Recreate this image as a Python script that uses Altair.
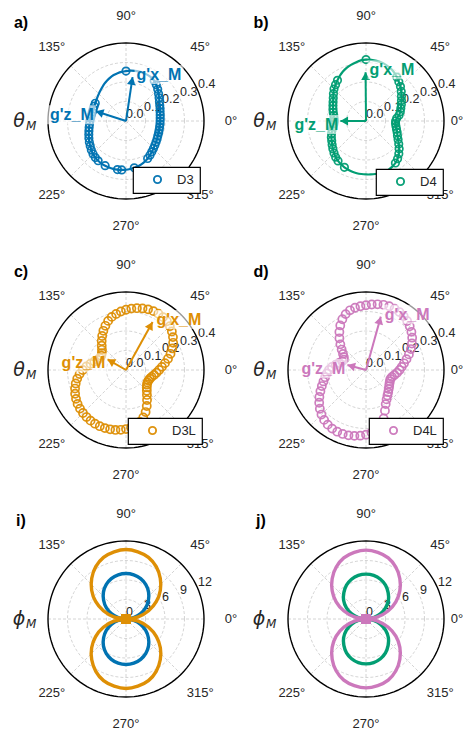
import math
import altair as alt
import pandas as pd

# ---------------- data ----------------
ANG = list(range(0, 360, 5))  # theta_M in degrees

R_D3 = [0.175, 0.176, 0.178, 0.181, 0.186, 0.191, 0.198, 0.207, 0.218, 0.230, 0.242, 0.252,
        0.258, 0.261, 0.262, 0.262, 0.261, 0.259, 0.256, 0.253, 0.249, 0.244, 0.237, 0.229,
        0.221, 0.212, 0.204, 0.197, 0.191, 0.186, 0.182, 0.180, 0.179, 0.179, 0.180, 0.182,
        0.185, 0.188, 0.192, 0.197, 0.203, 0.210, 0.217, 0.224, 0.232, 0.239, 0.245, 0.249,
        0.252, 0.253, 0.254, 0.254, 0.253, 0.252, 0.250, 0.247, 0.244, 0.240, 0.235, 0.229,
        0.222, 0.214, 0.206, 0.199, 0.193, 0.188, 0.184, 0.180, 0.178, 0.176, 0.175, 0.175]

R_D4 = [0.152, 0.158, 0.172, 0.182, 0.190, 0.200, 0.210, 0.222, 0.236, 0.250, 0.262, 0.275,
        0.288, 0.298, 0.305, 0.310, 0.313, 0.315, 0.315, 0.312, 0.305, 0.298, 0.290, 0.280,
        0.268, 0.255, 0.243, 0.232, 0.218, 0.205, 0.195, 0.187, 0.180, 0.174, 0.168, 0.164,
        0.162, 0.165, 0.172, 0.180, 0.188, 0.196, 0.203, 0.212, 0.222, 0.232, 0.242, 0.250,
        0.256, 0.262, 0.266, 0.270, 0.272, 0.273, 0.274, 0.275, 0.276, 0.277, 0.277, 0.275,
        0.270, 0.263, 0.252, 0.238, 0.222, 0.205, 0.190, 0.178, 0.170, 0.162, 0.156, 0.152]

R_D3L = [0.170, 0.185, 0.203, 0.223, 0.243, 0.262, 0.279, 0.294, 0.307, 0.318, 0.326, 0.331,
         0.333, 0.333, 0.331, 0.327, 0.322, 0.316, 0.309, 0.301, 0.292, 0.282, 0.268, 0.250,
         0.232, 0.213, 0.194, 0.176, 0.161, 0.151, 0.146, 0.147, 0.155, 0.168, 0.185, 0.204,
         0.222, 0.239, 0.254, 0.267, 0.278, 0.288, 0.296, 0.303, 0.308, 0.312, 0.315, 0.317,
         0.318, 0.318, 0.317, 0.315, 0.312, 0.308, 0.303, 0.296, 0.287, 0.275, 0.259, 0.238,
         0.213, 0.188, 0.167, 0.151, 0.139, 0.131, 0.127, 0.127, 0.130, 0.136, 0.146, 0.157]

R_D4L = [0.172, 0.184, 0.198, 0.215, 0.234, 0.254, 0.272, 0.289, 0.304, 0.317, 0.328, 0.337,
         0.343, 0.347, 0.348, 0.346, 0.342, 0.337, 0.332, 0.328, 0.324, 0.317, 0.305, 0.287,
         0.264, 0.238, 0.212, 0.186, 0.163, 0.144, 0.131, 0.126, 0.130, 0.142, 0.158, 0.175,
         0.190, 0.202, 0.213, 0.226, 0.241, 0.258, 0.276, 0.293, 0.309, 0.323, 0.334, 0.342,
         0.347, 0.349, 0.349, 0.347, 0.343, 0.338, 0.332, 0.322, 0.307, 0.289, 0.264, 0.230,
         0.202, 0.184, 0.171, 0.161, 0.152, 0.145, 0.139, 0.135, 0.133, 0.138, 0.148, 0.160]

# angles at which measured markers are visible in panels a) and b)
MARK_D3 = [0, 5, 10, 15, 20, 25, 30, 35, 40, 45, 50, 55, 90,
           150, 155, 160, 165, 170, 175, 180, 185, 190, 195, 200, 205, 210, 215, 220, 225, 230, 235,
           245, 260, 265, 280, 300, 305, 310, 315, 320, 325, 330, 335, 340, 345, 350, 355]
MARK_D4 = [0, 5, 10, 15, 20, 25, 30, 35, 40, 45, 50, 55, 90,
           125, 130, 135, 140, 145, 150, 155, 160, 165, 170, 175, 180, 185, 190, 195, 200, 205,
           210, 215, 220, 225, 230, 235, 245, 305, 310, 315, 320, 325, 330, 335, 340, 345, 350, 355]

PHI = list(range(0, 361, 10))  # phi_M in degrees
PHI_D3 = [0, 1.2, 2.4, 3.5, 4.5, 5.4, 6.1, 6.6, 6.9, 7.0, 6.9, 6.6, 6.1, 5.4, 4.5, 3.5, 2.4, 1.2, 0,
          1.2, 2.4, 3.5, 4.5, 5.4, 6.1, 6.6, 6.9, 7.0, 6.9, 6.6, 6.1, 5.4, 4.5, 3.5, 2.4, 1.2, 0]
PHI_D3L = [0, 1.9, 3.7, 5.4, 6.9, 8.2, 9.3, 10.1, 10.5, 10.7, 10.5, 10.1, 9.3, 8.2, 6.9, 5.4, 3.7, 1.9, 0,
           1.9, 3.7, 5.4, 6.9, 8.2, 9.3, 10.1, 10.5, 10.7, 10.5, 10.1, 9.3, 8.2, 6.9, 5.4, 3.7, 1.9, 0]
PHI_D4 = [0, 1.2, 2.4, 3.5, 4.5, 5.3, 6.0, 6.5, 6.8, 6.9, 6.8, 6.5, 6.0, 5.3, 4.5, 3.5, 2.4, 1.2, 0,
          1.2, 2.4, 3.5, 4.5, 5.3, 6.0, 6.5, 6.8, 6.9, 6.8, 6.5, 6.0, 5.3, 4.5, 3.5, 2.4, 1.2, 0]
PHI_D4L = [0, 1.8, 3.6, 5.3, 6.8, 8.1, 9.2, 10.0, 10.4, 10.6, 10.4, 10.0, 9.2, 8.1, 6.8, 5.3, 3.6, 1.8, 0,
           1.8, 3.6, 5.3, 6.8, 8.1, 9.2, 10.0, 10.4, 10.6, 10.4, 10.0, 9.2, 8.1, 6.8, 5.3, 3.6, 1.8, 0]

# principal-axis arrows: (angle deg, length)
ARROW_X = {"a": (81.5, 0.228), "b": (90.5, 0.250), "c": (61.0, 0.281), "d": (74.5, 0.284)}
ARROW_Z = {"a": (162.0, 0.163), "b": (180.0, 0.132), "c": (150.0, 0.110), "d": (165.0, 0.099)}

THETA_LABELS = [0, 45, 90, 135, 225, 270, 315]
SPOKES = [0, 45, 90, 135, 180, 225, 270, 315]
CIRCLE_STEPS = list(range(0, 361, 3))
RT_THETA = [0.0, 0.1, 0.2, 0.3, 0.4]
RL_THETA = ["0.0", "0.1", "0.2", "0.3", "0.4"]
RT_PHI = [0, 3, 6, 9, 12]
RL_PHI = ["0", "3", "6", "9", "12"]

BLUE, ORANGE, GREEN, PINK = "#0173B2", "#DE8F05", "#029E73", "#CC78BC"

# ---------------- layout / style ----------------
FONT = "Liberation Sans"
PX = 78.0                    # pixels per unit radius (outer circle)
LEFT, RIGHT, TOP, BOTTOM = 118, 99, 113, 112
W, H = LEFT + RIGHT, TOP + BOTTOM
XS = alt.Scale(domain=[-LEFT / PX, RIGHT / PX], nice=False, zero=False)
YS = alt.Scale(domain=[-BOTTOM / PX, TOP / PX], nice=False, zero=False)
GRID = "#c9c9c9"
INK = "#262626"
LAB_R = 1.345
BOX_X = "M2,-12 L51,-12 L51,7 L2,7 Z"     # translucent label boxes (pixel path, size=4)
BOX_Z = "M-49,-6 L0,-6 L0,13 L-49,13 Z"


def X(f):
    return alt.X(f"{f}:Q", scale=XS, axis=None)


def Y(f):
    return alt.Y(f"{f}:Q", scale=YS, axis=None)


def polar_calc(chart, rmax, shift=0.0):
    return chart.transform_calculate(
        u=f"datum.r / {rmax} - {shift}",
    ).transform_calculate(
        x="datum.u * cos(datum.a * PI / 180)",
        y="datum.u * sin(datum.a * PI / 180)",
    )


def const_text(label, px_x, px_y, **kw):
    return alt.Chart(pd.DataFrame({"lab": [label]})).transform_calculate(
        x=f"{px_x / PX}", y=f"{-px_y / PX}"
    ).mark_text(**kw).encode(x=X("x"), y=Y("y"), text="lab:N")


def ring_layer(rvals, rmax, **kw):
    df = pd.DataFrame([(t, a) for t in rvals for a in CIRCLE_STEPS], columns=["r", "a"])
    return polar_calc(alt.Chart(df), rmax).mark_line(**kw).encode(
        x=X("x"), y=Y("y"), detail="r:N", order="a:Q")


def panel(letter, sym, rmax, rticks, rlabels, lines, points=None, arrow_key=None,
          color=None, legend_pos=None, right_col=False, center_sq=None, msize=56):
    layers = []
    zero_r = 91 / PX if right_col else LAB_R   # keep the 0° label inside the page
    rings = ring_layer(rticks[1:-1], rmax, stroke=GRID, strokeWidth=0.8, strokeDash=[3, 2])
    spokes = alt.Chart(pd.DataFrame({"a": SPOKES})).transform_calculate(
        o="0", x1="cos(datum.a * PI / 180)", y1="sin(datum.a * PI / 180)"
    ).mark_rule(stroke=GRID, strokeWidth=0.8, strokeDash=[3, 2]).encode(
        x=X("o"), y=Y("o"), x2="x1:Q", y2="y1:Q")
    outer = ring_layer([rticks[-1]], rmax, stroke="black", strokeWidth=1.4)
    alab = alt.Chart(pd.DataFrame({"a": THETA_LABELS})).transform_calculate(
        lr=f"datum.a == 0 ? {zero_r} : {LAB_R}"
    ).transform_calculate(
        x="datum.lr * cos(datum.a * PI / 180)", y="datum.lr * sin(datum.a * PI / 180)",
        lab="datum.a + '°'"
    ).mark_text(font=FONT, fontSize=13, color=INK).encode(x=X("x"), y=Y("y"), text="lab:N")
    rlab = alt.Chart(pd.DataFrame({"t": rticks, "lab": rlabels})).transform_calculate(
        x=f"datum.t / {rmax} * cos(22.5 * PI / 180)", y=f"datum.t / {rmax} * sin(22.5 * PI / 180)"
    ).mark_text(font=FONT, fontSize=12.5, color=INK, align="left", baseline="bottom").encode(
        x=X("x"), y=Y("y"), text="lab:N")
    layers += [rings, spokes, outer, alab, rlab]

    for ang, rs, col, width in lines:
        df = pd.DataFrame({"a": ang, "r": rs})
        df["i"] = range(len(df))
        if ang[-1] - ang[0] < 360:
            df = pd.concat([df, pd.DataFrame({"a": [ang[0] + 360], "r": [rs[0]], "i": [len(df)]})])
        ln = polar_calc(alt.Chart(df), rmax).mark_line(
            color=col, strokeWidth=width, interpolate="catmull-rom").encode(
            x=X("x"), y=Y("y"), order="i:Q")
        layers.append(ln)

    if points is not None:
        ang, rs, show, name = points
        df = pd.DataFrame({"a": ang, "r": rs, "name": name})
        df = df[df["a"].isin(show)]
        lx, ly = legend_pos
        pts = polar_calc(alt.Chart(df), rmax).mark_point(
            shape="circle", filled=False, size=msize, strokeWidth=1.7, opacity=0.95).encode(
            x=X("x"), y=Y("y"),
            color=alt.Color("name:N", scale=alt.Scale(domain=[name], range=[color]),
                            legend=alt.Legend(title=None, orient="none", legendX=lx, legendY=ly,
                                              strokeColor="black", fillColor="white", padding=6,
                                              cornerRadius=0, symbolType="circle", symbolSize=52,
                                              symbolStrokeWidth=1.9, symbolOffset=12, labelOffset=13,
                                              labelFont=FONT, labelFontSize=13, labelColor=INK)))
        layers.append(pts)

    if arrow_key is not None:
        ax_ang, ax_len = ARROW_X[arrow_key]
        az_ang, az_len = ARROW_Z[arrow_key]
        adf = pd.DataFrame({"a": [ax_ang, az_ang], "r": [ax_len, az_len]})
        shaft = polar_calc(alt.Chart(adf), rmax).transform_calculate(o="0").mark_rule(
            color=color, strokeWidth=2).encode(x=X("o"), y=Y("o"), x2="x:Q", y2="y:Q")
        head = polar_calc(alt.Chart(adf), rmax, shift=0.05).transform_calculate(
            rot="(450 - datum.a) % 360").mark_point(
            shape="triangle-up", filled=True, size=80, color=color, opacity=1).encode(
            x=X("x"), y=Y("y"), angle=alt.Angle("rot:Q", scale=None))
        lx_df = pd.DataFrame({"a": [ax_ang], "r": [ax_len], "lab": ["g'x_M"]})
        lz_df = pd.DataFrame({"a": [az_ang], "r": [az_len], "lab": ["g'z_M"]})
        bx = polar_calc(alt.Chart(lx_df), rmax).mark_point(
            shape=BOX_X, size=4, filled=True, color="white", opacity=0.6, strokeWidth=0).encode(
            x=X("x"), y=Y("y"))
        bz = polar_calc(alt.Chart(lz_df), rmax).mark_point(
            shape=BOX_Z, size=4, filled=True, color="white", opacity=0.6, strokeWidth=0).encode(
            x=X("x"), y=Y("y"))
        tx = polar_calc(alt.Chart(lx_df), rmax).mark_text(
            font=FONT, fontSize=16, fontWeight="bold", color=color, align="left",
            baseline="middle", dx=4, dy=-2).encode(x=X("x"), y=Y("y"), text="lab:N")
        tz = polar_calc(alt.Chart(lz_df), rmax).mark_text(
            font=FONT, fontSize=16, fontWeight="bold", color=color, align="right",
            baseline="middle", dx=-2, dy=4).encode(x=X("x"), y=Y("y"), text="lab:N")
        layers += [shaft, head, bx, bz, tx, tz]

    if center_sq is not None:
        sq = alt.Chart(pd.DataFrame({"a": [0], "r": [0]})).transform_calculate(o="0").mark_square(
            size=100, color=center_sq, opacity=1).encode(x=X("o"), y=Y("o"))
        layers.append(sq)

    layers.append(const_text(letter, -105, -98, font=FONT, fontSize=16, fontWeight="bold",
                             color="black", align="center", baseline="middle"))
    layers.append(const_text(sym, -107, 0, font="DejaVu Sans", fontSize=19, fontStyle="italic",
                             color=INK, align="center", baseline="middle"))
    layers.append(const_text("M", -100, 5, font="DejaVu Sans", fontSize=12, fontStyle="italic",
                             color=INK, align="left", baseline="middle"))
    return alt.layer(*layers).properties(width=W, height=H)


pa = panel("a)", "θ", 0.4, RT_THETA, RL_THETA, [(ANG, R_D3, BLUE, 2.2)],
           points=(ANG, R_D3, MARK_D3, "D3"), arrow_key="a", color=BLUE,
           legend_pos=(LEFT + 7, TOP + 46))
pb = panel("b)", "θ", 0.4, RT_THETA, RL_THETA, [(ANG, R_D4, GREEN, 2.2)],
           points=(ANG, R_D4, MARK_D4, "D4"), arrow_key="b", color=GREEN,
           legend_pos=(LEFT + 10, TOP + 48), right_col=True)
pc = panel("c)", "θ", 0.4, RT_THETA, RL_THETA, [],
           points=(ANG, R_D3L, ANG, "D3L"), arrow_key="c", color=ORANGE,
           legend_pos=(LEFT + 2, TOP + 48), msize=66)
pd_ = panel("d)", "θ", 0.4, RT_THETA, RL_THETA, [],
            points=(ANG, R_D4L, ANG, "D4L"), arrow_key="d", color=PINK,
            legend_pos=(LEFT + 3, TOP + 48), right_col=True, msize=66)
pi = panel("i)", "ϕ", 12, RT_PHI, RL_PHI,
           [(PHI, PHI_D3, BLUE, 3.4), (PHI, PHI_D3L, ORANGE, 3.4)], center_sq=ORANGE)
pj = panel("j)", "ϕ", 12, RT_PHI, RL_PHI,
           [(PHI, PHI_D4, GREEN, 3.4), (PHI, PHI_D4L, PINK, 3.4)], center_sq=PINK, right_col=True)

chart = alt.concat(pa, pb, pc, pd_, pi, pj, columns=2,
                   spacing={"row": 24, "column": 23}, bounds="flush").resolve_scale(
    color="independent").resolve_legend(color="independent").properties(
    padding=0).configure_view(stroke=None).configure_legend(strokeWidth=1.2)

chart.save("out.html", embed_options={"renderer": "svg", "actions": False})
